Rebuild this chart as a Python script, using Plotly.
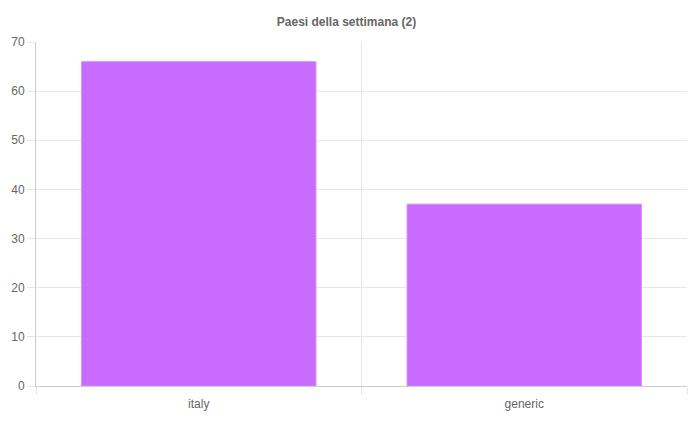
import plotly.graph_objects as go

categories = ["italy", "generic"]
values = [66, 37]
title_text = "Paesi della settimana (2)"

fig = go.Figure(go.Bar(
    x=categories, y=values,
    marker=dict(color="rgb(201,107,255)", line=dict(color="rgb(214,140,255)", width=1)),
    hoverinfo="x+y",
))

fig.update_layout(
    width=693, height=421,
    margin=dict(l=36, r=6, t=42, b=35),
    paper_bgcolor="white", plot_bgcolor="white",
    title=dict(text="<b>" + title_text + "</b>", x=0.5, xanchor="center", y=1 - 22/421, yanchor="middle",
               font=dict(family="Liberation Sans, Arial, sans-serif", size=12, color="#666")),
    bargap=0.28,
    showlegend=False,
    font=dict(family="Liberation Sans, Arial, sans-serif", size=12, color="#666"),
)
fig.update_xaxes(
    type="category", tickson="boundaries", showgrid=True, gridcolor="#e6e6e6", gridwidth=1,
    ticks="outside", ticklen=8, tickcolor="#e6e6e6", ticklabelstandoff=7,
    showline=True, linecolor="#cccccc", linewidth=1, zeroline=False,
    tickfont=dict(size=12, color="#666"),
)
fig.update_yaxes(
    range=[0, 70], dtick=10, showgrid=True, gridcolor="#e6e6e6", gridwidth=1,
    ticks="outside", ticklen=8, tickcolor="#e6e6e6",
    showline=True, linecolor="#cccccc", linewidth=1, zeroline=False,
    tickfont=dict(size=12, color="#666"),
)

fig.write_html("out.html", config={"displayModeBar": False},
               post_script="document.body.style.margin='0';document.body.style.overflow='hidden';")
